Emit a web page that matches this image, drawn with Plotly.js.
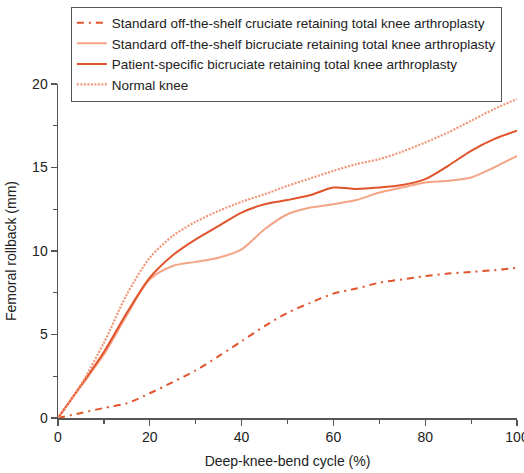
<!DOCTYPE html>
<html>
<head>
<meta charset="utf-8">
<script src="https://cdn.plot.ly/plotly-3.0.1.min.js"></script>
<style>html,body{margin:0;padding:0;background:#fff;}#chart{width:524px;height:473px;}</style>
</head>
<body>
<div id="chart"></div>
<script>
// Deep-knee-bend cycle (%)
const cycle = [0, 5, 10, 15, 20, 25, 30, 35, 40, 45, 50, 55, 60, 65, 70, 75, 80, 85, 90, 95, 100];
// Femoral rollback (mm)
const cruciateRetaining = [0, 0.3, 0.6, 0.88, 1.48, 2.15, 2.85, 3.7, 4.6, 5.5, 6.3, 6.9, 7.45, 7.75, 8.1, 8.3, 8.5, 8.65, 8.75, 8.85, 9.0];
const bicruciateStandard = [0, 1.9, 3.8, 6.15, 8.3, 9.1, 9.35, 9.6, 10.1, 11.3, 12.2, 12.6, 12.8, 13.05, 13.5, 13.8, 14.1, 14.2, 14.4, 15.0, 15.7];
const bicruciatePatient = [0, 1.95, 3.95, 6.3, 8.4, 9.75, 10.7, 11.5, 12.3, 12.8, 13.05, 13.35, 13.8, 13.72, 13.8, 13.95, 14.3, 15.1, 16.0, 16.7, 17.2];
const normalKnee = [0, 2.0, 4.5, 7.4, 9.6, 10.9, 11.75, 12.4, 12.95, 13.4, 13.9, 14.35, 14.8, 15.2, 15.5, 15.95, 16.5, 17.1, 17.8, 18.5, 19.1];

const names = [
  "Standard off-the-shelf cruciate retaining total knee arthroplasty",
  "Standard off-the-shelf bicruciate retaining total knee arthroplasty",
  "Patient-specific bicruciate retaining total knee arthroplasty",
  "Normal knee"
];
const xTickVals = [0, 20, 40, 60, 80, 100];
const yTickVals = [0, 5, 10, 15, 20];

const dark = "#E0532B";
const traces = [
  {x: cycle, y: cruciateRetaining, name: names[0], mode: "lines",
   line: {color: dark, width: 2, dash: "7px,5px,2px,5px", shape: "spline", smoothing: 0.8}},
  {x: cycle, y: bicruciateStandard, name: names[1], mode: "lines",
   line: {color: "#F4A486", width: 2, shape: "spline", smoothing: 0.8}},
  {x: cycle, y: bicruciatePatient, name: names[2], mode: "lines",
   line: {color: dark, width: 2, shape: "spline", smoothing: 0.8}},
  {x: cycle, y: normalKnee, name: names[3], mode: "lines",
   line: {color: "#F29677", width: 2.2, dash: "2px,1.5px", shape: "spline", smoothing: 0.8}}
];

const layout = {
  width: 524, height: 473,
  margin: {l: 58, r: 7, t: 81, b: 55, pad: 0},
  paper_bgcolor: "#fff", plot_bgcolor: "#fff",
  font: {family: "Liberation Sans, Arial, sans-serif", size: 14, color: "#222"},
  showlegend: true,
  legend: {
    x: 0.028, y: 1.232, xanchor: "left", yanchor: "top",
    bgcolor: "#fff", bordercolor: "#555", borderwidth: 1,
    font: {size: 13.5, color: "#222"}, itemwidth: 30, tracegroupgap: 0
  },
  xaxis: {
    range: [0, 100], showgrid: false, zeroline: false,
    showline: true, linecolor: "#555", linewidth: 1.5,
    ticks: "outside", ticklen: 6, tickcolor: "#555", tickwidth: 1.2,
    tickvals: xTickVals, ticktext: xTickVals.map(String),
    ticklabeloverflow: "allow",
    tickfont: {size: 14, color: "#222"},
    minor: {dtick: 10, tick0: 0, ticks: "outside", ticklen: 4, tickcolor: "#555", tickwidth: 1.2},
    title: {text: "Deep-knee-bend cycle (%)", font: {size: 14, color: "#222"}, standoff: 12},
    fixedrange: true
  },
  yaxis: {
    range: [0, 20], showgrid: false, zeroline: false,
    showline: true, linecolor: "#555", linewidth: 1.5,
    ticks: "outside", ticklen: 6, tickcolor: "#555", tickwidth: 1.2,
    tickvals: yTickVals, ticktext: yTickVals.map(String),
    tickfont: {size: 14, color: "#222"},
    minor: {dtick: 2.5, tick0: 0, ticks: "outside", ticklen: 4, tickcolor: "#555", tickwidth: 1.2},
    title: {text: "Femoral rollback (mm)", font: {size: 14, color: "#222"}, standoff: 12},
    fixedrange: true
  }
};

Plotly.newPlot("chart", traces, layout, {displayModeBar: false, staticPlot: true});
</script>
</body>
</html>
